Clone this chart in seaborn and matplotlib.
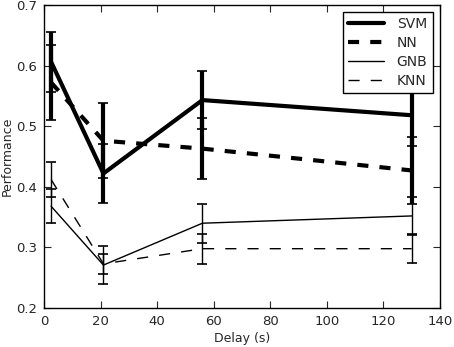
import numpy as np
import pandas as pd
import matplotlib
matplotlib.use("Agg")
import matplotlib.pyplot as plt
import seaborn as sns

delays = [2.5, 21, 56, 130]
svm = [0.606, 0.422, 0.543, 0.518]
svm_err = [0.050, 0.048, 0.048, 0.050]
nn = [0.572, 0.476, 0.463, 0.427]
nn_err = [0.062, 0.062, 0.050, 0.055]
gnb = [0.368, 0.271, 0.340, 0.352]
gnb_err = [0.028, 0.032, 0.032, 0.031]
knn = [0.412, 0.273, 0.298, 0.298]
knn_err = [0.029, 0.017, 0.025, 0.024]
names = ["SVM", "NN", "GNB", "KNN"]

sns.set_style("ticks")
plt.rcParams["font.family"] = ["DejaVu Sans"]
plt.rcParams["lines.scale_dashes"] = False

fig = plt.figure(figsize=(4.54, 3.47), dpi=100)
ax = fig.add_axes([0.097, 0.112, 0.872, 0.874])

series = [(svm, svm_err), (nn, nn_err), (gnb, gnb_err), (knn, knn_err)]
styles = [("-", 3.0), ("--", 3.0), ("-", 1.0), ("--", 1.0)]

for name, (vals, errs), (ls, lw) in zip(names, series, styles):
    df = pd.DataFrame({"Delay": delays, "Performance": vals})
    sns.lineplot(data=df, x="Delay", y="Performance", ax=ax, color="black",
                 linewidth=lw, linestyle=ls, label=name)
    if ls == "--":
        ax.lines[-1].set_dashes((8, 8))
    ax.errorbar(delays, vals, yerr=errs, fmt="none", ecolor="black",
                elinewidth=lw, capsize=3.8, capthick=1.2)

ax.set_xlim(0, 140)
ax.set_ylim(0.2, 0.7)
ax.set_xticks(np.arange(0, 141, 20))
ax.set_yticks(np.arange(0.2, 0.71, 0.1))
ax.set_yticklabels(["0.2", "0.3", "0.4", "0.5", "0.6", "0.7"])
ax.set_xlabel("Delay (s)", fontsize=9, labelpad=3)
ax.set_ylabel("Performance", fontsize=9, labelpad=2)
ax.tick_params(direction="in", top=True, right=True, length=5, width=0.8,
               labelsize=9.5, pad=5)
for s in ax.spines.values():
    s.set_linewidth(1.0)
    s.set_color("black")

leg = ax.legend(loc="upper right", fontsize=10, frameon=True, fancybox=False,
                edgecolor="black", framealpha=1, borderaxespad=0.5,
                handlelength=2.6, handletextpad=0.9, labelspacing=0.35)
leg.get_frame().set_linewidth(1.0)
for h in leg.get_lines():
    if h.get_linestyle() == "--":
        h.set_dashes((8, 8))

fig.savefig("out.png", dpi=100)
